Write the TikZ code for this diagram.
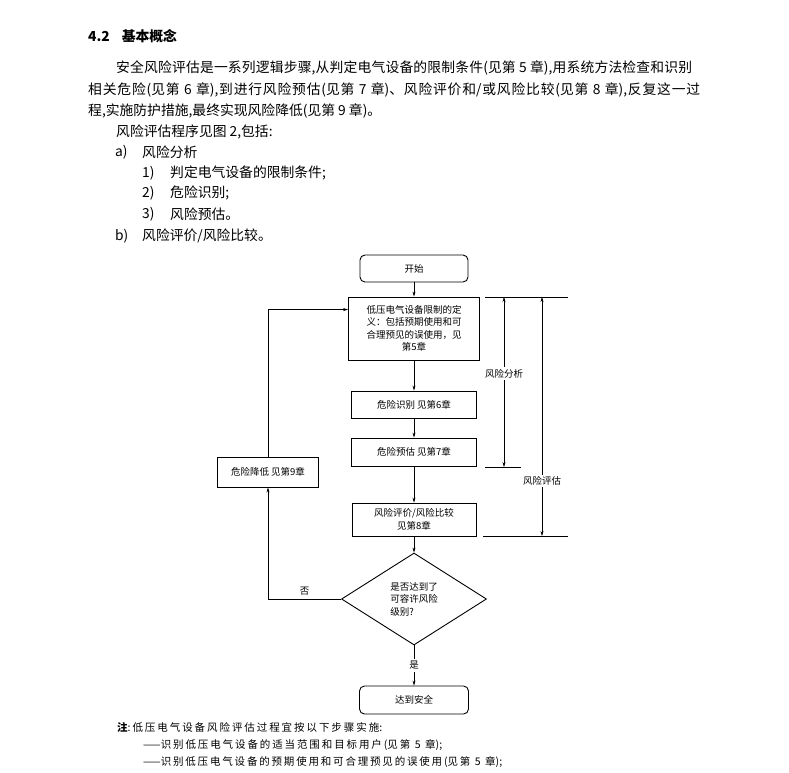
\documentclass[tikz,border=0pt]{standalone}
\usepackage{fontspec}
\setmainfont{Noto Sans CJK SC}
\usetikzlibrary{shapes.geometric,arrows.meta}
\XeTeXlinebreaklocale "zh"
\XeTeXlinebreakskip=0pt plus 1pt
\newcommand\txtsize{\fontsize{13.8pt}{16pt}\selectfont}
\newcommand\boxsize{\fontsize{9.5pt}{12.5pt}\selectfont}
\newcommand\notesize{\fontsize{10.5pt}{13pt}\selectfont}
\newcommand\fullline{\parfillskip=0pt\relax}
\tikzset{
  txt/.style={anchor=west, inner sep=0pt, font=\txtsize},
  note/.style={anchor=west, inner sep=0pt, font=\notesize},
  full/.style={align=justify, text width=#1},
  box/.style={draw, line width=0.9pt, inner sep=2pt, align=center, font=\boxsize},
  rbox/.style={box, rounded corners=5pt},
  dec/.style={draw, line width=0.9pt, shape=diamond, inner sep=0pt,
    minimum width=145pt, minimum height=92pt, align=left, font=\boxsize},
  arr/.style={line width=0.5pt, -{Stealth[length=5pt,width=3pt]}},
  dim/.style={line width=0.5pt, {Stealth[length=5pt,width=3pt]}-{Stealth[length=5pt,width=3pt]}},
  lab/.style={fill=white, inner sep=2pt, font=\boxsize}
}
\begin{document}
\begin{tikzpicture}[x=1pt,y=-1pt]
      \useasboundingbox (0,0) rectangle (789,772);
      % text above the chart
      \node[txt, font=\txtsize\bfseries] (hd) at (88,36) {4.2\hspace{12pt}基本概念};
      \node[txt, full=576pt] (p1) at (116,68) {\fullline 安全风险评估是一系列逻辑步骤,从判定电气设备的限制条件(见第 5 章),用系统方法检查和识别\par};
      \node[txt, full=612pt] (p2) at (88,90) {\fullline 相关危险(见第 6 章),到进行风险预估(见第 7 章)、风险评价和/或风险比较(见第 8 章),反复这一过\par};
      \node[txt] (p3) at (88,111) {程,实施防护措施,最终实现风险降低(见第 9 章)。};
      \node[txt] (p4) at (116,132) {风险评估程序见图 2,包括:};
      \node[txt] (ia) at (115,152) {a)};
      \node[txt] (iat) at (142,152) {风险分析};
      \node[txt] (i1) at (142,173) {1)};
      \node[txt] (i1t) at (170,173) {判定电气设备的限制条件;};
      \node[txt] (i2) at (142,193) {2)};
      \node[txt] (i2t) at (170,193) {危险识别;};
      \node[txt] (i3) at (142,214) {3)};
      \node[txt] (i3t) at (170,214) {风险预估。};
      \node[txt] (ib) at (115,236) {b)};
      \node[txt] (ibt) at (142,236) {风险评价/风险比较。};
      % chart
      \node[rbox, minimum width=108pt, minimum height=27pt] (start) at (414,268.5) {开始};
      \node[box, minimum width=131pt, minimum height=63pt] (def) at (414,328.5)
        {低压电气设备限制的定\\义：包括预期使用和可\\合理预见的误使用，见\\第5章};
      \node[box, minimum width=125pt, minimum height=27pt] (ident) at (414,404.5) {危险识别 见第6章};
      \node[box, minimum width=125pt, minimum height=28pt] (est) at (414,452) {危险预估 见第7章};
      \node[box, minimum width=124pt, minimum height=33pt] (eval) at (414,519.5) {风险评价/风险比较\\见第8章};
      \node[dec] (ok) at (414,599) {是否达到了\\可容许风险\\级别?};
      \node[rbox, minimum width=109pt, minimum height=28pt] (safe) at (414,700) {达到安全};
      \node[box, minimum width=101pt, minimum height=30pt] (red) at (268,472) {危险降低 见第9章};
      \begin{scope}[arr]
        \draw (start) to (def);
        \draw (def) to (ident);
        \draw (ident) to (est);
        \draw (est) to (eval);
        \draw (eval) to (ok);
        \draw (ok) to node[lab] (yes) {是} (safe);
        \draw (ok.west) -| node[above, pos=0.25, font=\boxsize] (no) {否} (red.south);
        \draw (red.north) |- ([yshift=-13pt]def.north west);
      \end{scope}
      % brackets on the right
      \coordinate (t1) at (485,297);
      \coordinate (t2) at (568,297);
      \coordinate (m1) at (485,467);
      \coordinate (m2) at (521,467);
      \coordinate (b1) at (483,536);
      \coordinate (b2) at (568,536);
      \coordinate (fa1) at (504,297);
      \coordinate (fa2) at (504,467);
      \coordinate (fg1) at (542,297);
      \coordinate (fg2) at (542,536);
      \begin{scope}[line width=0.5pt]
        \draw (t1) to (t2);
        \draw (m1) to (m2);
        \draw (b1) to (b2);
      \end{scope}
      \draw[dim] (fa1) to node[lab, pos=0.45] (lfa) {风险分析} (fa2);
      \draw[dim] (fg1) to node[lab, pos=0.77] (lfg) {风险评估} (fg2);
      % note
      \node[note, full=265pt] (n0) at (117,727) {\fullline\textbf{注}:低压电气设备风险评估过程宜按以下步骤实施:\par};
      \node[note, full=299pt] (n1) at (143,745) {\fullline ——识别低压电气设备的适当范围和目标用户(见第 5 章);\par};
      \node[note, full=359pt] (n2) at (143,762) {\fullline ——识别低压电气设备的预期使用和可合理预见的误使用(见第 5 章);\par};
    \end{tikzpicture}
\end{document}
